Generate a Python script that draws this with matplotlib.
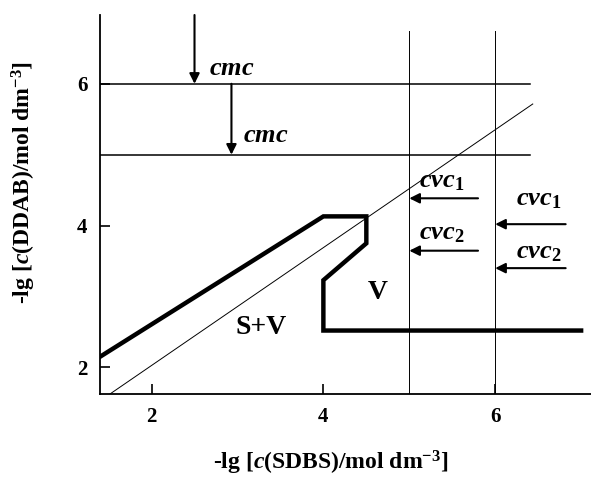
import matplotlib
matplotlib.use("Agg")
import matplotlib.pyplot as plt

plt.rcParams['font.family'] = ['Liberation Serif', 'DejaVu Serif']
plt.rcParams['font.weight'] = 'bold'
plt.rcParams['mathtext.fontset'] = 'custom'
plt.rcParams['mathtext.rm'] = 'Liberation Serif:bold'
plt.rcParams['mathtext.it'] = 'Liberation Serif:bold:italic'
plt.rcParams['mathtext.bf'] = 'Liberation Serif:bold'
plt.rcParams['mathtext.sf'] = 'Liberation Serif'

# Data
boundary_x = [1.40, 4.0, 4.5, 4.5, 4.0, 4.0, 7.0]
boundary_y = [2.15, 4.13, 4.13, 3.75, 3.23, 2.52, 2.52]
diag_x = [1.516, 6.437]
diag_y = [1.625, 5.715]
cmc_levels = [6.0, 5.0]
cmc_line_x = [1.40, 6.40]
cvc_levels_x = [5.0, 6.0]
cvc_line_top = 6.75
xticks = [2, 4, 6]
yticks = [2, 4, 6]

fig = plt.figure(figsize=(5.91, 4.79), dpi=100)
ax = fig.add_axes([100/591, 85/479, 491/591, 379/479])
ax.set_xlim(1.40, 7.115)
ax.set_ylim(1.625, 6.97)

for s in ['top', 'right']:
    ax.spines[s].set_visible(False)
for s in ['left', 'bottom']:
    ax.spines[s].set_linewidth(1.3)

ax.set_xticks(xticks)
ax.set_yticks(yticks)
ax.tick_params(direction='in', length=7, width=1.2, labelsize=15, pad=9)
for lab in ax.get_xticklabels() + ax.get_yticklabels():
    lab.set_fontweight('bold')

# cmc horizontal lines
for lv in cmc_levels:
    ax.plot(cmc_line_x, [lv, lv], color='k', lw=1.1)
# cvc vertical lines
for xv in cvc_levels_x:
    ax.plot([xv, xv], [ax.get_ylim()[0], cvc_line_top], color='k', lw=0.7)
# thin diagonal
ax.plot(diag_x, diag_y, color='k', lw=0.7)
# phase boundary
ax.plot(boundary_x, boundary_y, color='k', lw=3.2, solid_joinstyle='miter')

arrow_kw = dict(arrowstyle='-|>', color='k', lw=1.5, mutation_scale=15,
                shrinkA=0, shrinkB=0)
# cmc arrows
ax.annotate('', xy=(2.5, 6.0), xytext=(2.5, 6.97), arrowprops=arrow_kw)
ax.annotate('', xy=(2.93, 5.0), xytext=(2.93, 6.0), arrowprops=arrow_kw)
ax.text(2.67, 6.13, '$cmc$', fontsize=19, ha='left', va='baseline')
ax.text(3.07, 5.18, '$cmc$', fontsize=19, ha='left', va='baseline')

# cvc arrows
ax.annotate('', xy=(5.0, 4.385), xytext=(5.80, 4.385), arrowprops=arrow_kw)
ax.annotate('', xy=(5.0, 3.646), xytext=(5.80, 3.646), arrowprops=arrow_kw)
ax.annotate('', xy=(6.0, 4.02), xytext=(6.82, 4.02), arrowprops=arrow_kw)
ax.annotate('', xy=(6.0, 3.40), xytext=(6.82, 3.40), arrowprops=arrow_kw)
ax.text(5.11, 4.54, '$cvc_{\\mathsf{1}}$', fontsize=19, ha='left', va='baseline')
ax.text(5.11, 3.80, '$cvc_{\\mathsf{2}}$', fontsize=19, ha='left', va='baseline')
ax.text(6.24, 4.29, '$cvc_{\\mathsf{1}}$', fontsize=19, ha='left', va='baseline')
ax.text(6.24, 3.54, '$cvc_{\\mathsf{2}}$', fontsize=19, ha='left', va='baseline')

ax.text(4.63, 3.05, 'V', fontsize=20, ha='center', va='center', fontweight='bold')
ax.text(3.27, 2.56, 'S+V', fontsize=20, ha='center', va='center', fontweight='bold')

fig.text(331/591, 1 - 463/479, '-lg [$c$(SDBS)/mol dm$^{\\mathrm{-3}}$]',
         fontsize=17, ha='center', va='center', fontweight='bold')
fig.text(24/591, 1 - 182/479, '-lg [$c$(DDAB)/mol dm$^{\\mathrm{-3}}$]',
         fontsize=17, ha='center', va='center', rotation=90, fontweight='bold')

fig.savefig('out.png', dpi=100)
